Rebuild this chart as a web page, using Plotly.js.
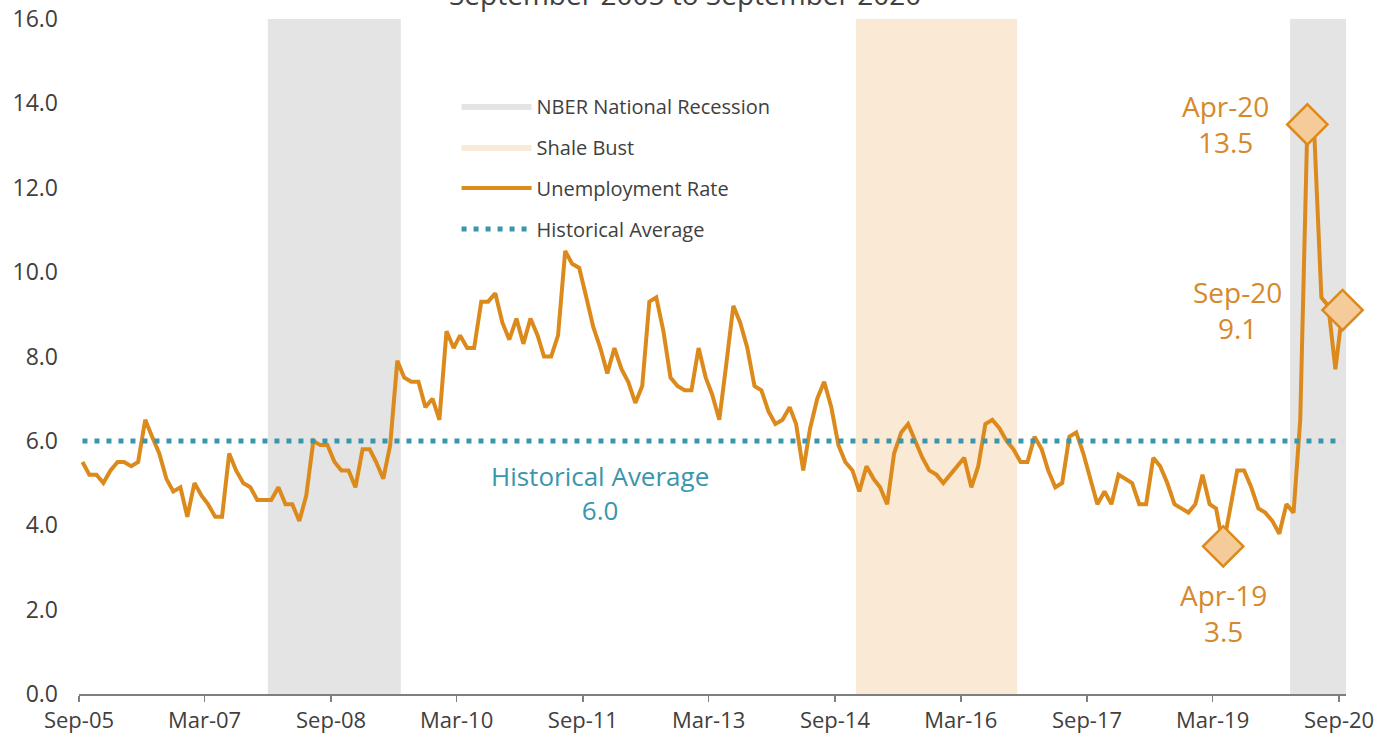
<!DOCTYPE html>
<html>
<head>
<meta charset="utf-8">
<script src="https://cdn.plot.ly/plotly-3.0.1.min.js"></script>
<style>
  html, body { margin: 0; padding: 0; background: #ffffff; }
  #chart { width: 1398px; height: 737px; }
</style>
</head>
<body>
<div id="chart"></div>
<script>
// ---- Data ----
var startYear = 2005, startMonth = 9; // Sep-2005
var unemploymentRate = [
  5.5, 5.2, 5.2, 5.0, 5.3, 5.5, 5.5, 5.4, 5.5, 6.5, 6.1, 5.7, 5.1, 4.8, 4.9, 4.2,
  5.0, 4.7, 4.5, 4.2, 4.2, 5.7, 5.3, 5.0, 4.9, 4.6, 4.6, 4.6, 4.9, 4.5, 4.5, 4.1,
  4.7, 6.0, 5.9, 5.9, 5.5, 5.3, 5.3, 4.9, 5.8, 5.8, 5.5, 5.1, 5.9, 7.9, 7.5, 7.4,
  7.4, 6.8, 7.0, 6.5, 8.6, 8.2, 8.5, 8.2, 8.2, 9.3, 9.3, 9.5, 8.8, 8.4, 8.9, 8.3,
  8.9, 8.5, 8.0, 8.0, 8.5, 10.5, 10.2, 10.1, 9.4, 8.7, 8.2, 7.6, 8.2, 7.7, 7.4, 6.9,
  7.3, 9.3, 9.4, 8.6, 7.5, 7.3, 7.2, 7.2, 8.2, 7.5, 7.1, 6.5, 7.8, 9.2, 8.8, 8.2,
  7.3, 7.2, 6.7, 6.4, 6.5, 6.8, 6.4, 5.3, 6.3, 7.0, 7.4, 6.8, 5.9, 5.5, 5.3, 4.8,
  5.4, 5.1, 4.9, 4.5, 5.7, 6.2, 6.4, 6.0, 5.6, 5.3, 5.2, 5.0, 5.2, 5.4, 5.6, 4.9,
  5.4, 6.4, 6.5, 6.3, 6.0, 5.8, 5.5, 5.5, 6.1, 5.8, 5.3, 4.9, 5.0, 6.1, 6.2, 5.7,
  5.1, 4.5, 4.8, 4.5, 5.2, 5.1, 5.0, 4.5, 4.5, 5.6, 5.4, 5.0, 4.5, 4.4, 4.3, 4.5,
  5.2, 4.5, 4.4, 3.5, 4.4, 5.3, 5.3, 4.9, 4.4, 4.3, 4.1, 3.8, 4.5, 4.3, 6.5, 13.5,
  13.3, 9.4, 9.2, 7.7, 9.1
];
var historicalAverage = 6.0;
var highlightMonths = ["Apr-19", "Apr-20", "Sep-20"];
var recessionStarts = ["2007-12-01", "2020-02-01"];
var recessionEnds   = ["2009-07-01", "2020-10-01"];
var shaleStarts = ["2014-12-01"];
var shaleEnds   = ["2016-11-01"];
var tickMonths = ["2005-09-01","2007-03-01","2008-09-01","2010-03-01","2011-09-01","2013-03-01",
                  "2014-09-01","2016-03-01","2017-09-01","2019-03-01","2020-09-01"];
var tickLabels = ["Sep-05","Mar-07","Sep-08","Mar-10","Sep-11","Mar-13","Sep-14","Mar-16","Sep-17","Mar-19","Sep-20"];
var axisRange = ["2005-09-01", "2020-10-01"];

// ---- Build month axis ----
var monNames = ["Jan","Feb","Mar","Apr","May","Jun","Jul","Aug","Sep","Oct","Nov","Dec"];
var dates = [], labels = [];
for (var k = 0; k < unemploymentRate.length; k++) {
  var m = (startMonth - 1 + k) % 12;
  var y = startYear + Math.floor((startMonth - 1 + k) / 12);
  dates.push(y + "-" + String(m + 1).padStart(2, "0") + "-16");
  labels.push(monNames[m] + "-" + String(y % 100).padStart(2, "0"));
}

function bandTrace(starts, ends, name, color) {
  var xs = [], ys = [];
  for (var i = 0; i < starts.length; i++) {
    xs.push(starts[i], starts[i], ends[i], ends[i], starts[i], null);
    ys.push(0, 16, 16, 0, 0, null);
  }
  return {
    x: xs, y: ys, type: "scatter", mode: "lines", fill: "toself",
    fillcolor: color, line: {width: 0, color: color}, name: name,
    hoverinfo: "skip", legendgroup: name
  };
}

var ORANGE = "#DC8A1C";
var TEAL = "#3996AC";
var TEXT = "#404040";
var FONT = "Open Sans, sans-serif";

var hx = [], hy = [];
highlightMonths.forEach(function (lab) {
  var idx = labels.indexOf(lab);
  hx.push(dates[idx]); hy.push(unemploymentRate[idx]);
});

var traces = [
  bandTrace(recessionStarts, recessionEnds, "NBER National Recession", "#E4E4E4"),
  bandTrace(shaleStarts, shaleEnds, "Shale Bust", "#FAE9D5"),
  {
    x: dates, y: unemploymentRate, type: "scatter", mode: "lines",
    name: "Unemployment Rate", line: {color: ORANGE, width: 4},
    legendgroup: "ur"
  },
  {
    x: [dates[0], dates[dates.length - 1]], y: [historicalAverage, historicalAverage],
    type: "scatter", mode: "lines", name: "Historical Average",
    line: {color: TEAL, width: 5, dash: "5px,7px"}, legendgroup: "ha"
  },
  {
    x: hx, y: hy, type: "scatter", mode: "markers", showlegend: false, cliponaxis: false,
    marker: {symbol: "diamond", size: 31, color: "#F5CC99", line: {color: ORANGE, width: 2.5}}
  }
];

var annotations = [
  {x: hx[1], y: hy[1], xref: "x", yref: "y", text: "Apr-20<br>" + hy[1].toFixed(1),
   showarrow: false, xshift: -82, yshift: 0, font: {family: FONT, size: 28, color: "#D6892C"}},
  {x: hx[2], y: hy[2], xref: "x", yref: "y", text: "Sep-20<br>" + hy[2].toFixed(1),
   showarrow: false, xshift: -105, yshift: 0, font: {family: FONT, size: 28, color: "#D6892C"}},
  {x: hx[0], y: hy[0], xref: "x", yref: "y", text: "Apr-19<br>" + hy[0].toFixed(1),
   showarrow: false, xshift: 0, yshift: -67, font: {family: FONT, size: 28, color: "#D6892C"}},
  {x: dates[74], y: historicalAverage, xref: "x", yref: "y",
   text: "Historical Average<br>" + historicalAverage.toFixed(1),
   showarrow: false, yshift: -52, font: {family: FONT, size: 26, color: TEAL}},
  {x: 0.478, y: 1.037, xref: "paper", yref: "paper", text: "September 2005 to September 2020",
   showarrow: false, yanchor: "middle", font: {family: FONT, size: 28, color: TEXT}}
];

var layout = {
  width: 1398, height: 737,
  margin: {l: 79, r: 52, t: 19, b: 43},
  paper_bgcolor: "#ffffff", plot_bgcolor: "#ffffff",
  font: {family: FONT, color: TEXT, size: 22},
  showlegend: true,
  legend: {
    x: 0.298, y: 0.9, xanchor: "left", yanchor: "top",
    bgcolor: "rgba(0,0,0,0)", font: {family: FONT, size: 20, color: TEXT},
    tracegroupgap: 12, itemwidth: 70
  },
  xaxis: {
    type: "date", range: axisRange, showgrid: false, zeroline: false,
    showline: true, linecolor: "#7F7F7F", linewidth: 1.5,
    ticks: "outside", ticklen: 6, tickcolor: "#7F7F7F", tickwidth: 1.5,
    tickvals: tickMonths, ticktext: tickLabels,
    tickfont: {family: FONT, size: 22, color: TEXT}
  },
  yaxis: {
    range: [0, 16], dtick: 2, tickformat: ".1f", showgrid: false, zeroline: false,
    showline: false, ticks: "", ticklabelstandoff: 20,
    tickfont: {family: FONT, size: 23, color: TEXT}
  },
  annotations: annotations
};

Plotly.newPlot("chart", traces, layout, {displayModeBar: false, staticPlot: true});
</script>
</body>
</html>
